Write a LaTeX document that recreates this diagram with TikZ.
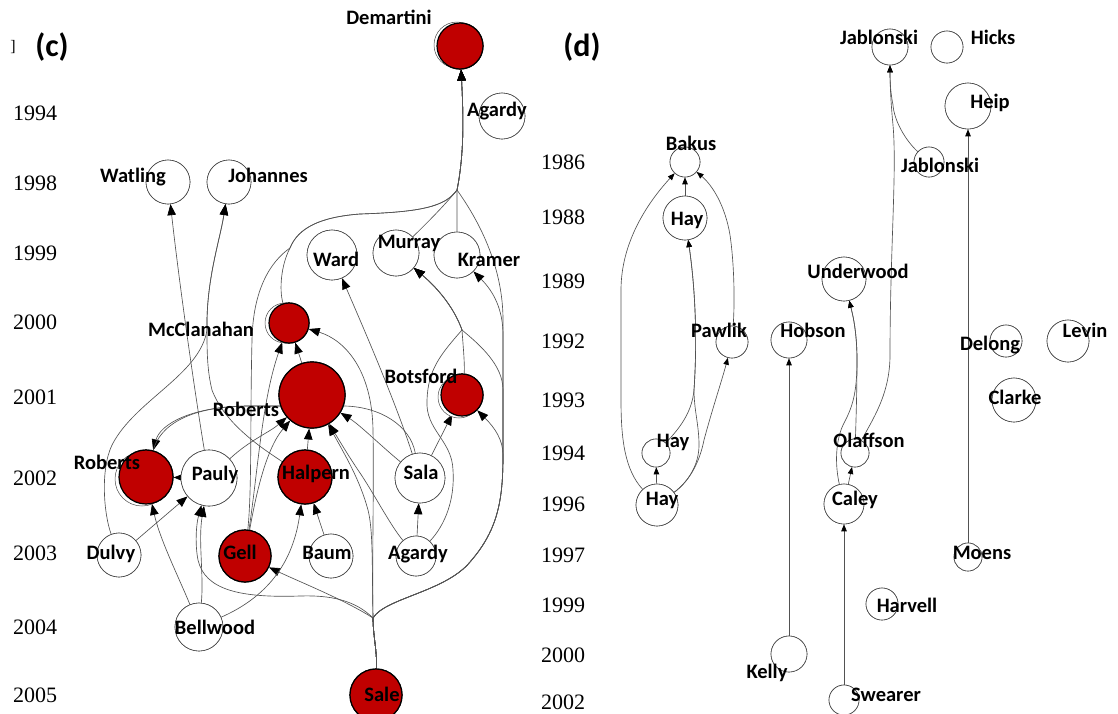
\documentclass[tikz,border=0pt]{standalone}
\usepackage{fontspec}
\setmainfont{Liberation Serif}
\newfontfamily\labfont{Carlito}
\usetikzlibrary{arrows.meta}
\definecolor{myred}{RGB}{192,0,0}
\newcommand\lf{\labfont\bfseries\fontsize{20.5}{24}\selectfont}
\newcommand\yf{\fontsize{22}{26}\selectfont}
\newcommand\pf{\labfont\bfseries\fontsize{32}{36}\selectfont}
\begin{document}
\begin{tikzpicture}[x=1pt,y=-1pt,
  rn/.style={circle, draw=black, line width=1.2pt, fill=myred, inner sep=0, minimum size=#1},
  wn/.style={circle, draw=black!75, line width=0.6pt, fill=white, inner sep=0, minimum size=#1},
  ghost/.style={draw=black!70, line width=0.5pt, fill=white},
  lab/.style={font=\lf, inner sep=0, text height=13.2pt, text depth=0pt, anchor=center},
  yr/.style={font=\yf, inner sep=0, text height=14.9pt, text depth=0pt, anchor=center},
  ed/.style={draw=black!68, line width=0.65pt},
  ar/.style={ed, -{Triangle[length=11pt,width=8.5pt,color=black]}},
  ars/.style={ed, -{Triangle[length=7pt,width=5.5pt,color=black]}}]
\useasboundingbox (0,0) rectangle (1118,713);

% ---------- panel titles and years ----------
\node[font=\fontsize{16}{18}\selectfont, inner sep=0] (brk) at (13,47) {]};
\node[font=\pf, inner sep=0] (pc) at (52,47) {(c)};
\node[font=\pf, inner sep=0] (pd) at (582,47) {(d)};
\foreach \y/\t in {113/1994,183/1998,253/1999,322/2000,397/2001,478/2002,553/2003,627/2004,695/2005}
  \node[yr] (yl\t) at (35,\y) {\t};
\foreach \y/\t in {162/1986,217/1988,281/1989,341/1992,400/1993,453/1994,504/1996,555/1997,605/1999,655/2000,702/2002}
  \node[yr] (yr\t) at (563,\y) {\t};

% ---------- node shapes (placed first so edges can refer to them) ----------
% left panel
\node[rn=46pt] (dem) at (460,46) {};
\node[wn=46pt] (agA) at (502,116) {};
\node[wn=44pt] (wat) at (168,182) {};
\node[wn=44pt] (joh) at (229,182) {};
\node[wn=50pt] (ward) at (332,255) {};
\node[wn=46pt] (mur) at (396,253) {};
\node[wn=46pt] (kra) at (457,255) {};
\node[rn=40pt] (mcc) at (289,323) {};
\node[rn=66pt] (rob1) at (312,395) {};
\node[rn=42pt] (bot) at (462,395) {};
\node[rn=54pt] (rob2) at (146,477) {};
\node[wn=56pt] (pau) at (209,478) {};
\node[rn=54pt] (hal) at (305,477) {};
\node[wn=50pt] (sala) at (420,478) {};
\node[wn=44pt] (dul) at (119,555) {};
\node[rn=52pt] (gell) at (245,556) {};
\node[wn=44pt] (baum) at (331,556) {};
\node[wn=40pt] (agB) at (416,556) {};
\node[wn=48pt] (bell) at (199,627) {};
\node[rn=52pt] (sale) at (376,695) {};
% right panel
\node[wn=36pt] (jab1) at (890,47) {};
\node[wn=32pt] (hic) at (947,47) {};
\node[wn=46pt] (hei) at (968,106) {};
\node[wn=30pt] (jab2) at (929,162) {};
\node[wn=30pt] (bak) at (685,162) {};
\node[wn=44pt] (hay88) at (685,218) {};
\node[wn=44pt] (und) at (844,279) {};
\node[wn=32pt] (paw) at (732,342) {};
\node[wn=36pt] (hob) at (789,340) {};
\node[wn=32pt] (del) at (1006,341) {};
\node[wn=42pt] (lev) at (1068,341) {};
\node[wn=44pt] (cla) at (1014,400) {};
\node[wn=28pt] (hay94) at (656,453) {};
\node[wn=28pt] (ola) at (855,453) {};
\node[wn=42pt] (hay96) at (657,505) {};
\node[wn=40pt] (cal) at (844,504) {};
\node[wn=28pt] (moe) at (968,557) {};
\node[wn=32pt] (har) at (882,604) {};
\node[wn=36pt] (kel) at (789,654) {};
\node[wn=30pt] (swe) at (844,700) {};

\coordinate (J) at (457,190);
\coordinate (S) at (373,618);
\coordinate (M) at (462,330);
\coordinate (L1) at (290,248);
\coordinate (JO) at (207,330);

% ---------- left panel edges ----------
% into Demartini
\draw[ar] (kra) -- (J) .. controls (465,150) and (463,110) .. (dem);
\draw[ar] (mur) .. controls (425,225) and (445,205) .. (J) .. controls (465,150) and (463,110) .. (dem);
\draw[ar] (mcc) .. controls (279,290) and (281,265) .. (L1) .. controls (298,228) and (320,217) .. (360,214) .. controls (420,212) and (445,207) .. (J) .. controls (465,150) and (463,110) .. (dem);
\draw[ar] (gell) .. controls (252,490) and (250,420) .. (252,340) .. controls (253,290) and (270,262) .. (L1) .. controls (298,228) and (320,217) .. (360,214) .. controls (420,212) and (445,207) .. (J) .. controls (465,150) and (463,110) .. (dem);
% Sale, right-hand route
\draw[ar] (sale) .. controls (377,650) and (373,635) .. (S) .. controls (385,598) and (445,592) .. (470,562) .. controls (498,530) and (503,500) .. (503,455) -- (503,320) .. controls (503,270) and (482,225) .. (J) .. controls (465,150) and (463,110) .. (dem);
\draw[ar] (sale) .. controls (377,650) and (373,635) .. (S) .. controls (385,598) and (445,592) .. (470,562) .. controls (498,530) and (503,500) .. (503,455) -- (503,335) .. controls (503,310) and (494,292) .. (kra);
\draw[ar] (sale) .. controls (377,650) and (373,635) .. (S) .. controls (385,598) and (445,592) .. (470,562) .. controls (498,530) and (503,500) .. (503,455) .. controls (503,440) and (495,428) .. (bot);
\draw[ar] (sale) .. controls (377,650) and (373,635) .. (S) .. controls (385,598) and (445,592) .. (470,562) .. controls (498,530) and (503,500) .. (503,455) -- (503,390) .. controls (503,365) and (480,345) .. (M) .. controls (455,310) and (440,290) .. (mur);
% Sale, other targets
\draw[ar] (sale) .. controls (377,650) and (373,635) .. (S) .. controls (372,560) and (374,490) .. (373,430) .. controls (372,370) and (345,340) .. (mcc);
\draw[ar] (sale) .. controls (377,650) and (373,635) .. (S) .. controls (372,560) and (373,530) .. (368,510) .. controls (360,480) and (345,455) .. (rob1);
\draw[ar] (sale) .. controls (377,650) and (373,635) .. (S) .. controls (345,600) and (300,582) .. (gell);
\draw[ar] (sale) .. controls (377,650) and (373,635) .. (S) .. controls (355,600) and (330,595) .. (300,596) .. controls (240,598) and (205,590) .. (198,560) .. controls (195,545) and (196,525) .. (pau);
% Bellwood
\draw[ar] (bell) .. controls (204,575) and (198,540) .. (pau);
\draw[ar] (bell) .. controls (180,580) and (160,540) .. (rob2);
\draw[ar] (bell) .. controls (260,600) and (292,570) .. (hal);
% Baum, Dulvy
\draw[ar] (baum) -- (hal);
\draw[ar] (dul) -- (pau);
\draw[ar] (dul) .. controls (104,515) and (100,470) .. (112,445) .. controls (135,400) and (200,375) .. (JO) .. controls (206,280) and (220,240) .. (joh);
\draw[ar] (hal) .. controls (265,450) and (225,425) .. (212,390) .. controls (207,370) and (207,350) .. (JO) .. controls (206,280) and (220,240) .. (joh);
% Pauly
\draw[ar] (pau) .. controls (196,400) and (180,290) .. (wat);
\draw[ar] (pau) .. controls (250,440) and (270,432) .. (rob1);
\draw[ar] (pau) -- (rob2);
% Gell
\draw[ar] (gell) .. controls (255,500) and (265,450) .. (rob1);
\draw[ar] (gell) .. controls (258,470) and (262,400) .. (mcc);
% Roberts 2001, Halpern
\draw[ar] (rob1) -- (mcc);
\draw[ar] (hal) -- (rob1);
% Sala
\draw[ar] (sala) .. controls (380,445) and (360,425) .. (rob1);
\draw[ar] (sala) .. controls (410,425) and (380,407) .. (345,406) -- (250,406) .. controls (190,406) and (160,425) .. (rob2);
\draw[ar] (sala) .. controls (395,400) and (360,320) .. (ward);
\draw[ar] (sala) -- (bot);
% Agardy 2003
\draw[ar] (agB) -- (sala);
\draw[ar] (agB) .. controls (390,525) and (372,490) .. (358,470) .. controls (350,458) and (345,450) .. (rob1);
\draw[ar] (agB) .. controls (445,525) and (455,500) .. (453,470) .. controls (452,440) and (425,430) .. (427,400) .. controls (428,370) and (440,355) .. (M) .. controls (455,310) and (440,290) .. (mur);
% Botsford
\draw[ar] (bot) .. controls (465,365) and (463,345) .. (M) .. controls (455,310) and (440,290) .. (mur);

% ---------- right panel edges ----------
\draw[ars] (hay88) -- (bak);
\draw[ars] (hay96) .. controls (625,470) and (621,440) .. (621,400) -- (621,290) .. controls (621,240) and (650,200) .. (bak);
\draw[ars] (paw) .. controls (735,300) and (734,262) .. (730,235) .. controls (725,205) and (712,185) .. (bak);
\draw[ars] (hay94) .. controls (680,428) and (692,412) .. (694,390) .. controls (698,330) and (694,280) .. (hay88);
\draw[ars] (hay96) .. controls (688,482) and (699,465) .. (699,445) .. controls (699,425) and (694,410) .. (694,390) .. controls (698,330) and (694,280) .. (hay88);
\draw[ars] (hay96) .. controls (688,482) and (699,465) .. (704,440) .. controls (712,410) and (722,380) .. (paw);
\draw[ars] (hay96) -- (hay94);
\draw[ars] (ola) .. controls (856,420) and (857,390) .. (857,360) .. controls (857,330) and (852,312) .. (und);
\draw[ars] (cal) .. controls (836,470) and (834,445) .. (843,425) .. controls (852,408) and (857,395) .. (857,360) .. controls (857,330) and (852,312) .. (und);
\draw[ars] (cal) -- (ola);
\draw[ars] (ola) .. controls (872,420) and (890,395) .. (890,355) .. controls (890,250) and (897,170) .. (893,125) .. controls (891,105) and (890,85) .. (jab1);
\draw[ars] (jab2) .. controls (905,140) and (894,120) .. (893,105) .. controls (891,95) and (890,85) .. (jab1);
\draw[ars] (kel) -- (hob);
\draw[ars] (swe) -- (cal);
\draw[ars] (moe) -- (hei);

% ---------- redraw node shapes on top of edges ----------
\draw[ghost] (457,45) circle[radius=23pt];
\draw[ghost] (285,323) circle[radius=20pt];
\draw[ghost] (459,397) circle[radius=21pt];
\draw[ghost] (142,479) circle[radius=27pt];
\foreach \n/\s in {dem/46,mcc/40,rob1/66,bot/42,rob2/54,hal/54,gell/52,sale/52}
  \node[rn=\s pt] at (\n) {};
\foreach \n/\s in {agA/46,wat/44,joh/44,ward/50,mur/46,kra/46,pau/56,sala/50,dul/44,baum/44,agB/40,bell/48,
  jab1/36,hic/32,hei/46,jab2/30,bak/30,hay88/44,und/44,paw/32,hob/36,del/32,lev/42,cla/44,hay94/28,ola/28,hay96/42,cal/40,moe/28,har/32,kel/36,swe/30}
  \node[wn=\s pt] at (\n) {};
% the Sala -> Roberts (2002) connector shows again left of the large circle
\draw[ed] (280,406) -- (250,406) .. controls (190,406) and (160,425) .. (rob2);

% ---------- labels ----------
\node[lab] (tdem) at (389,18) {Demartini};
\node[lab] (tagA) at (497,110) {Agardy};
\node[lab] (twat) at (133,176) {Watling};
\node[lab] (tjoh) at (268,176) {Johannes};
\node[lab] (tward) at (336,260) {Ward};
\node[lab] (tmur) at (409,242) {Murray};
\node[lab] (tkra) at (489,260) {Kramer};
\node[lab] (tmcc) at (201,330) {McClanahan};
\node[lab] (trob1) at (246,410) {Roberts};
\node[lab] (tbot) at (421,377) {Botsford};
\node[lab] (trob2) at (107,463) {Roberts};
\node[lab] (tpau) at (215,474) {Pauly};
\node[lab] (thal) at (316,473) {Halpern};
\node[lab] (tsala) at (421,473) {Sala};
\node[lab] (tdul) at (111,553) {Dulvy};
\node[lab] (tgell) at (240,553) {Gell};
\node[lab] (tbaum) at (327,553) {Baum};
\node[lab] (tagB) at (418,553) {Agardy};
\node[lab] (tbell) at (215,628) {Bellwood};
\node[lab] (tsale) at (382,695) {Sale};
\node[lab] (tjab1) at (879,38) {Jablonski};
\node[lab] (thic) at (993,38) {Hicks};
\node[lab] (thei) at (990,102) {Heip};
\node[lab] (tjab2) at (940,166) {Jablonski};
\node[lab] (tbak) at (691,144) {Bakus};
\node[lab] (thay88) at (687,219) {Hay};
\node[lab] (tund) at (858,272) {Underwood};
\node[lab] (tpaw) at (719,331) {Pawlik};
\node[lab] (thob) at (813,331) {Hobson};
\node[lab] (tdel) at (990,344) {Delong};
\node[lab] (tlev) at (1085,331) {Levin};
\node[lab] (tcla) at (1015,398) {Clarke};
\node[lab] (thay94) at (673,441) {Hay};
\node[lab] (tola) at (869,441) {Olaffson};
\node[lab] (thay96) at (662,499) {Hay};
\node[lab] (tcal) at (855,499) {Caley};
\node[lab] (tmoe) at (982,553) {Moens};
\node[lab] (thar) at (907,606) {Harvell};
\node[lab] (tkel) at (767,672) {Kelly};
\node[lab] (tswe) at (886,695) {Swearer};
\end{tikzpicture}
\end{document}
